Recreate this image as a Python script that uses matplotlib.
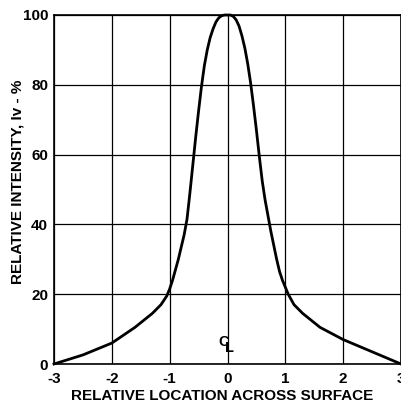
import matplotlib
matplotlib.use("Agg")
import matplotlib.pyplot as plt

location = [-3.0, -2.5, -2.0, -1.6, -1.3, -1.15, -1.05, -1.0, -0.95, -0.9, -0.85, -0.8, -0.75,
            -0.7, -0.65, -0.6, -0.55, -0.5, -0.45, -0.4, -0.35, -0.3, -0.25, -0.2, -0.15, -0.1,
            -0.05, 0.0, 0.05, 0.1, 0.15, 0.2, 0.25, 0.3, 0.35, 0.4, 0.45, 0.5, 0.55, 0.6, 0.65,
            0.7, 0.75, 0.8, 0.85, 0.9, 0.95, 1.0, 1.05, 1.15, 1.3, 1.6, 2.0, 2.5, 3.0]
intensity = [0.0, 2.6, 6.0, 10.5, 14.5, 17.0, 19.5, 21.5, 24.0, 27.0, 30.0, 33.5, 37.0,
             41.5, 49.0, 57.0, 65.0, 72.5, 79.5, 85.5, 90.0, 93.5, 96.0, 98.0, 99.2, 99.8,
             100.0, 100.0, 100.0, 99.6, 98.6, 96.8, 94.0, 90.5, 86.0, 80.5, 74.0, 67.0, 59.5, 52.5, 47.0,
             42.5, 38.0, 34.0, 30.0, 26.5, 24.0, 22.0, 20.0, 17.0, 14.5, 10.5, 7.0, 3.5, 0.0]
xticks = [-3, -2, -1, 0, 1, 2, 3]
yticks = [0, 20, 40, 60, 80, 100]

plt.rcParams['font.family'] = ['Liberation Sans', 'DejaVu Sans']
fig = plt.figure(figsize=(4.01, 4.04), dpi=100)
ax = fig.add_axes([54/401, 40/404, 347/401, 349/404])
ax.set_xlim(-3, 3)
ax.set_ylim(0, 100)
ax.set_xticks(xticks)
ax.set_yticks(yticks)
ax.set_xticklabels([str(v) for v in xticks], fontsize=11, fontweight='bold')
ax.set_yticklabels([str(v) for v in yticks], fontsize=11, fontweight='bold')
ax.tick_params(length=0)
ax.tick_params(axis='x', pad=5.8)
ax.tick_params(axis='y', pad=4.3)
ax.grid(True, color='black', linewidth=0.9)
ax.set_axisbelow(True)
for s in ax.spines.values():
    s.set_linewidth(1.2)
ax.plot(location, intensity, color='black', linewidth=2.0, solid_joinstyle='round', clip_on=False)
ax.text(-0.06, 6.3, 'C', ha='center', va='center', fontsize=10.5, fontweight='bold')
ax.text(0.03, 4.6, 'L', ha='center', va='center', fontsize=10.5, fontweight='bold')
ax.set_xlabel('RELATIVE LOCATION ACROSS SURFACE', fontsize=11, fontweight='bold', va='center')
ax.set_ylabel('RELATIVE INTENSITY, Iv - %', fontsize=11, fontweight='bold', va='center')
ax.xaxis.set_label_coords((222.5 - 54) / 347, (364 - 396) / 349)
ax.yaxis.set_label_coords((18 - 54) / 347, (364 - 181.5) / 349)
fig.savefig('out.png', dpi=100)
